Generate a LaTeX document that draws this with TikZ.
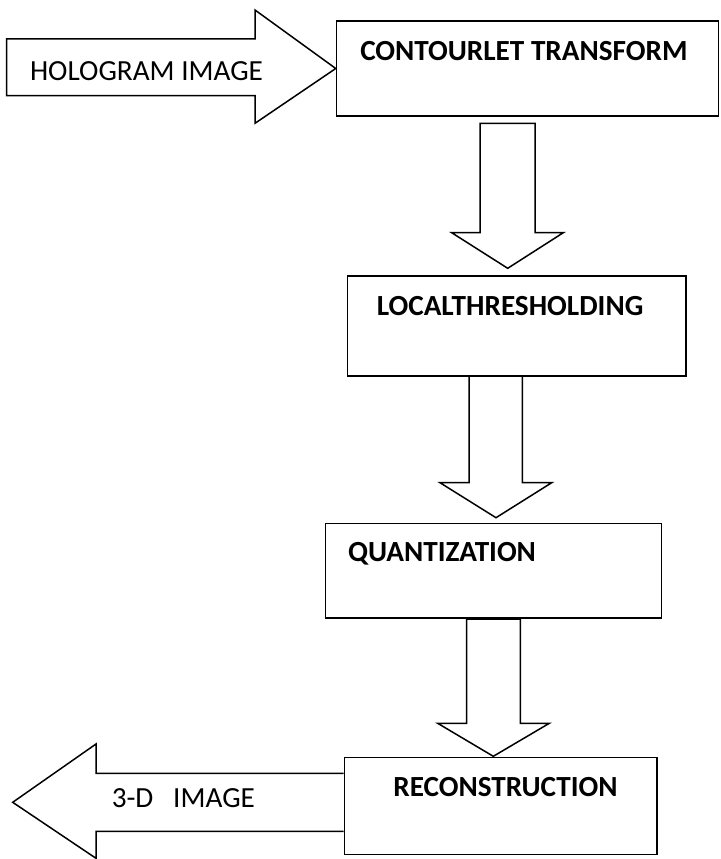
\documentclass[tikz,border=0pt]{standalone}
\usepackage{fontspec}
\setmainfont{Carlito}
\usetikzlibrary{calc}
\begin{document}
\begin{tikzpicture}[x=1pt,y=-1pt,line width=1.5pt,
  box/.style={draw,rectangle,inner sep=0pt},
  lbl/.style={anchor=base west,inner sep=0pt,font=\fontsize{29.2}{35}\selectfont},
  blbl/.style={anchor=base west,inner sep=0pt,font=\fontsize{29.2}{35}\selectfont\bfseries},
  blockarrow/.style={draw,fill=white,line join=miter}]
\useasboundingbox (0,0) rectangle (720,859);
% boxes
\node[box,minimum width=382pt,minimum height=95pt] (ct) at (527.5,68.5) {};
\node[box,minimum width=338.7pt,minimum height=100pt] (lt) at (516.65,326) {};
\node[box,minimum width=336pt,minimum height=94.7pt] (qz) at (493.7,570.65) {};
\node[box,minimum width=312.7pt,minimum height=97pt] (rc) at (500.65,805.8) {};
% block arrows
\draw[blockarrow] (6.7,39) -- (255,39) -- (255,10) -- (ct.west) -- (255,123.3) -- (255,95.7) -- (6.7,95.7) -- cycle;
\draw[blockarrow] (480,123.3) -- (535,123.3) -- (535,232.7) -- (563.3,232.7) -- (507.7,268.3) -- (451.7,232.7) -- (480,232.7) -- cycle;
\draw[blockarrow] (469,376) -- (522.3,376) -- (522.3,482.7) -- (551.7,482.7) -- (496,517.7) -- (440,482.7) -- (469,482.7) -- cycle;
\draw[blockarrow] (466.7,619) -- (520.3,619) -- (520.3,723.3) -- (549.3,723.3) -- (493.3,756.3) -- (437.7,723.3) -- (466.7,723.3) -- cycle;
\draw[blockarrow] (rc.west |- 0,773.3) -- (96,773.3) -- (96,744) -- (12.7,802.3) -- (96,858.3) -- (96,831.3) -- (rc.west |- 0,831.3);
% labels
\node[lbl] (holo) at (29.3,81) {HOLOGRAM IMAGE};
\node[blbl] (ctl) at (359.5,60) {CONTOURLET TRANSFORM};
\node[blbl] (ltl) at (376,315) {LOCALTHRESHOLDING};
\node[blbl] (qzl) at (347.3,561.7) {QUANTIZATION};
\node[blbl] (rcl) at (392.7,796.3) {RECONSTRUCTION};
\node[lbl] (outl) at (111,807.3) {3-D\ \ \ IMAGE};
\end{tikzpicture}
\end{document}
